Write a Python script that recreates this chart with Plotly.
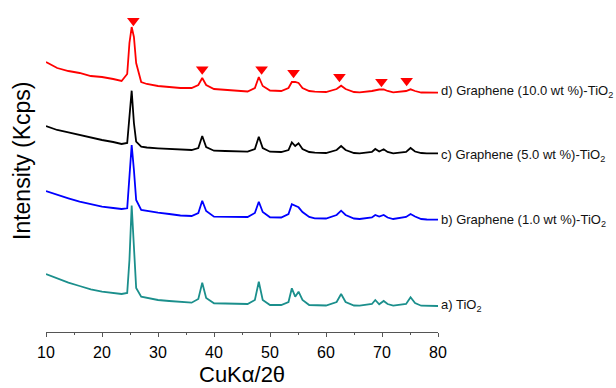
import plotly.graph_objects as go

# 2-theta positions (degrees) at which intensities were read
two_theta = [10, 12, 14, 16, 18, 20, 22, 23.5, 24.5, 24.9, 25.3, 25.7, 26.1, 27, 28, 30, 32, 34, 36,
             37.2, 37.9, 38.6, 40, 42, 44, 46, 47.3, 48.0, 48.7, 50, 52, 53.3, 53.9, 54.5, 55.1, 55.8,
             57, 58, 60, 61.9, 62.7, 63.5, 65, 66, 68.2, 68.8, 69.5, 70.3, 71, 72, 74.3, 75.1, 75.9,
             77, 78, 80]

# stacked intensities (arbitrary units, offsets included)
tio2 = [58, 53.7, 49.3, 46, 42.7, 40.3, 39.3, 38, 39, 72, 126.5, 77, 44, 35.3, 34, 32, 31, 30, 29.3,
        33, 49.3, 34, 28.7, 28.5, 28, 28, 32, 50.3, 32, 27, 27, 30, 43.7, 35.3, 40.3, 32,
        27, 27, 26.5, 30, 38, 30, 26.5, 26.3, 28, 32, 27.7, 31, 28, 26.3, 28, 34.7, 29,
        26.3, 26, 26]
g1 = [141, 137, 133.7, 130.3, 127.7, 125.3, 124, 123, 123.7, 155.3, 187, 162, 132, 122, 121, 119.3, 118, 116.5, 116,
      119, 131.3, 121, 115.3, 115, 115, 115, 119, 130.3, 120, 114.7, 114.5, 118, 127.7, 126.5, 124.7, 120,
      115, 113.7, 113.5, 117, 121.3, 117, 113.5, 113, 114.5, 117, 115.5, 117, 114.5, 113, 115, 118, 115.5,
      113, 112.5, 112.3]
g5 = [206, 202, 199.7, 197, 194.3, 192, 190, 188, 189, 212, 241.3, 209, 190.3, 185.3, 184.5, 183.7, 183, 182, 182,
      184, 196, 185, 181.3, 181, 180.5, 180.3, 183, 195.3, 184, 180.3, 180, 182, 189.7, 186, 188.7, 183,
      180, 179.3, 179, 182, 186, 182, 179, 178.7, 180, 183, 180.5, 182.7, 180, 178.7, 180, 184, 180.5,
      179, 178.7, 178.7]
g10 = [270, 264, 261, 259, 256, 255, 253, 251, 258, 289, 305, 295, 269, 250, 248, 246, 245, 244, 244,
       247, 254, 247, 243, 242, 241, 240.5, 244, 255, 246, 241.5, 241, 244, 250, 250, 249, 244,
       241, 240.3, 240, 243, 246.3, 243, 240, 239.7, 241, 242, 242.5, 242.5, 241, 239.7, 241, 242.7, 241,
       239.5, 239.5, 239.3]

# anatase reflection markers on trace d
mark_x = [25.6, 37.9, 48.5, 54.2, 62.4, 69.9, 74.4]
mark_y = [311.3, 262.7, 262.7, 259.3, 255.3, 250.3, 251.3]

labels = ["a) TiO<sub>2</sub>",
          "b) Graphene (1.0 wt %)-TiO<sub>2</sub>",
          "c) Graphene (5.0 wt %)-TiO<sub>2</sub>",
          "d) Graphene (10.0 wt %)-TiO<sub>2</sub>"]
label_y = [27, 112, 177, 240.3]

colors = ["#1B8F8C", "#0000FF", "#000000", "#FF0000"]
series = [tio2, g1, g5, g10]

FONT = "Arial, Liberation Sans, sans-serif"

fig = go.Figure()
for ys, c in zip(series, colors):
    fig.add_trace(go.Scatter(x=two_theta, y=ys, mode="lines",
                             line=dict(color=c, width=1.8), showlegend=False, hoverinfo="skip"))

fig.add_trace(go.Scatter(x=mark_x, y=mark_y, mode="markers",
                         marker=dict(symbol="triangle-down", size=11, color="#FF0000",
                                     line=dict(width=0)),
                         showlegend=False, hoverinfo="skip"))

for t, yv in zip(labels, label_y):
    fig.add_annotation(x=80, y=yv, xref="x", yref="y", text=t, showarrow=False,
                       xanchor="left", yanchor="middle", xshift=1,
                       font=dict(family=FONT, size=13, color="#111"))

fig.add_annotation(x=-24 / 392, y=(332 - 161) / 332, xref="paper", yref="paper",
                   text="Intensity (Kcps)", textangle=-90, showarrow=False,
                   xanchor="center", yanchor="middle",
                   font=dict(family=FONT, size=23, color="#000"))
fig.add_annotation(x=0.5, y=-56 / 332, xref="paper", yref="paper",
                   text="CuKα/2θ", showarrow=False, borderpad=0,
                   xanchor="center", yanchor="bottom",
                   font=dict(family=FONT, size=22, color="#000"))

fig.update_layout(
    width=616, height=388,
    margin=dict(l=46, r=178, t=0, b=56),
    paper_bgcolor="white", plot_bgcolor="white",
    xaxis=dict(range=[10, 80], tickvals=[10, 20, 30, 40, 50, 60, 70, 80],
               showline=True, linecolor="#555", linewidth=1,
               ticks="outside", ticklen=4, tickcolor="#555", tickwidth=1,
               minor=dict(dtick=5, ticks="outside", ticklen=2, tickcolor="#555"),
               showgrid=False, zeroline=False,
               tickfont=dict(family=FONT, size=16, color="#000"),
               ticklabelstandoff=2),
    yaxis=dict(range=[0, 332], visible=False),
)

fig.write_html("out.html")
